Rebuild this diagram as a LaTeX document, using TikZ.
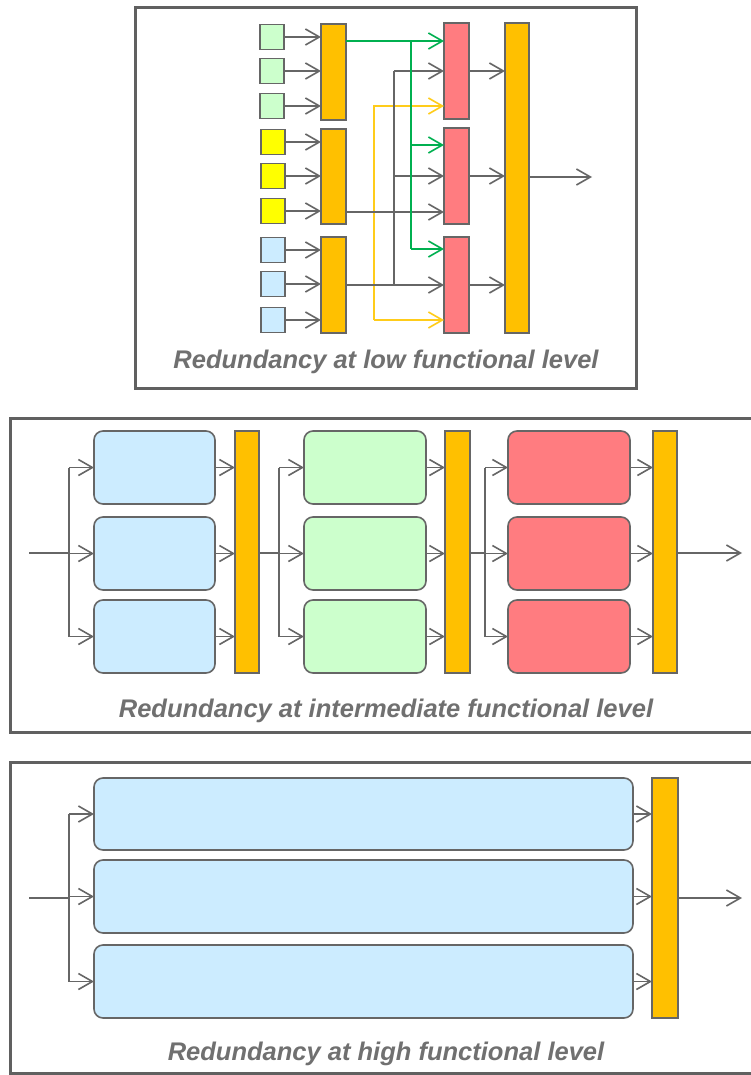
\documentclass[tikz,border=0pt]{standalone}
\usepackage{fontspec}
\setmainfont{Liberation Sans}
\usetikzlibrary{arrows.meta}
\definecolor{lgray}{HTML}{666666}
\definecolor{fgray}{HTML}{606060}
\definecolor{capgray}{HTML}{707070}
\definecolor{lgreen}{HTML}{CCFFCC}
\definecolor{lyellow}{HTML}{FFFF00}
\definecolor{lblue}{HTML}{CCECFF}
\definecolor{orng}{HTML}{FFC000}
\definecolor{lred}{HTML}{FF7C80}
\definecolor{grn}{HTML}{00B050}
\definecolor{ylw}{HTML}{FFCC1A}
\tikzset{
  x=1pt, y=-1pt,
  box/.style={draw=lgray, line width=1.6pt, inner sep=0pt, outer sep=0pt},
  sq/.style={box, minimum width=24pt, minimum height=25pt},
  rbox/.style={box, rounded corners=9pt},
  wire/.style={draw=lgray, line width=1.6pt},
  tip/.style={-{Straight Barb[length=14pt,width=16pt,line width=1.6pt]}},
  arr/.style={wire, tip},
  garr/.style={draw=grn, line width=1.6pt, tip},
  gwire/.style={draw=grn, line width=1.6pt},
  yarr/.style={draw=ylw, line width=1.6pt, tip},
  frame/.style={draw=fgray, line width=3pt},
  caption/.style={text=capgray, font=\fontsize{25.5}{30}\selectfont\bfseries\itshape, anchor=base, inner sep=0pt},
}
\begin{document}
\begin{tikzpicture}
\clip (0,0) rectangle (751,1075);
\fill[white] (0,0) rectangle (751,1075);
% ================= top panel =================
\draw[frame] (135,8) rectangle (636,388);
\node[sq, fill=lgreen] (g1) at (272,37) {};
\node[sq, fill=lgreen] (g2) at (272,71) {};
\node[sq, fill=lgreen] (g3) at (272,106) {};
\node[sq, fill=lyellow] (y1) at (273,142) {};
\node[sq, fill=lyellow] (y2) at (273,176) {};
\node[sq, fill=lyellow] (y3) at (273,211) {};
\node[sq, fill=lblue] (u1) at (273,250) {};
\node[sq, fill=lblue] (u2) at (273,284) {};
\node[sq, fill=lblue] (u3) at (273,320) {};
\node[box, fill=orng, minimum width=25pt, minimum height=96pt] (b1) at (333.5,72) {};
\node[box, fill=orng, minimum width=25pt, minimum height=95pt] (b2) at (333.5,176.5) {};
\node[box, fill=orng, minimum width=25pt, minimum height=96pt] (b3) at (333.5,285) {};
\node[box, fill=lred, minimum width=25pt, minimum height=96pt] (r1) at (456.5,71) {};
\node[box, fill=lred, minimum width=25pt, minimum height=96pt] (r2) at (456.5,176) {};
\node[box, fill=lred, minimum width=25pt, minimum height=96pt] (r3) at (456.5,285) {};
\node[box, fill=orng, minimum width=24pt, minimum height=310pt] (F) at (517,178) {};
\foreach \s/\b in {g1/b1,g2/b1,g3/b1,y1/b2,y2/b2,y3/b2,u1/b3,u2/b3,u3/b3}
  \draw[arr] (\s.east) -- (\b.west |- \s.east);
% yellow line
\coordinate (yA) at (374,106);
\coordinate (yB) at (374,320);
\draw[yarr] (yB) -- (yA) -- (r1.west |- yA);
\draw[yarr] (yB) -- (r3.west |- yB);
% gray lines
\coordinate (kA) at (394,71);
\coordinate (kB) at (394,176);
\coordinate (kC) at (394,285);
\coordinate (kD) at (394,212);
\draw[wire] (kA) -- (kC);
\draw[arr] (b3.east |- kC) -- (r3.west |- kC);
\draw[arr] (kA) -- (r1.west |- kA);
\draw[arr] (kB) -- (r2.west |- kB);
\draw[arr] (b2.east |- kD) -- (r2.west |- kD);
% green lines
\coordinate (gA) at (411,41);
\coordinate (gB) at (411,145);
\coordinate (gC) at (411,249);
\draw[gwire] (gA) -- (gC);
\draw[garr] (b1.east |- gA) -- (r1.west |- gA);
\draw[garr] (gB) -- (r2.west |- gB);
\draw[garr] (gC) -- (r3.west |- gC);
% red outputs
\foreach \r in {r1,r2,r3}
  \draw[arr] (\r.east) -- (F.west |- \r.east);
\coordinate (o1) at (592,177);
\draw[arr] (F.east |- o1) -- (o1);
\node[caption] (cap1) at (386,368) {Redundancy at low functional level};
% ================= middle panel =================
\draw[frame] (10,418) rectangle (770,732);
\foreach \i/\y in {1/467.5,2/553.5,3/636.5}{
  \node[rbox, fill=lblue, minimum width=121pt, minimum height=73pt] (a\i) at (154.5,\y) {};
  \node[rbox, fill=lgreen, minimum width=122pt, minimum height=73pt] (c\i) at (365,\y) {};
  \node[rbox, fill=lred, minimum width=122pt, minimum height=73pt] (d\i) at (569,\y) {};
}
\node[box, fill=orng, minimum width=24pt, minimum height=242pt] (B1) at (247,552) {};
\node[box, fill=orng, minimum width=25pt, minimum height=242pt] (B2) at (457.5,552) {};
\node[box, fill=orng, minimum width=24pt, minimum height=242pt] (B3) at (665,552) {};
\coordinate (mi) at (29,553);
\coordinate (mv) at (69,553);
\draw[wire] (mi) -- (mv);
\draw[wire] (mv |- a1) -- (mv |- a3);
\coordinate (mv2) at (279,553);
\draw[wire] (B1.east |- mv2) -- (mv2);
\draw[wire] (mv2 |- c1) -- (mv2 |- c3);
\coordinate (mv3) at (485,553);
\draw[wire] (B2.east |- mv3) -- (mv3);
\draw[wire] (mv3 |- d1) -- (mv3 |- d3);
\foreach \i in {1,2,3}{
  \draw[arr] (mv |- a\i) -- (a\i.west);
  \draw[arr] (a\i.east) -- (B1.west |- a\i.east);
  \draw[arr] (mv2 |- c\i) -- (c\i.west);
  \draw[arr] (c\i.east) -- (B2.west |- c\i.east);
  \draw[arr] (mv3 |- d\i) -- (d\i.west);
  \draw[arr] (d\i.east) -- (B3.west |- d\i.east);
}
\coordinate (o2) at (742,553);
\draw[arr] (B3.east |- o2) -- (o2);
\node[caption] (cap2) at (386,717) {Redundancy at intermediate functional level};
% ================= bottom panel =================
\draw[frame] (10,762) rectangle (770,1073);
\node[rbox, fill=lblue, minimum width=539pt, minimum height=72pt] (h1) at (363.5,814) {};
\node[rbox, fill=lblue, minimum width=539pt, minimum height=73pt] (h2) at (363.5,896.5) {};
\node[rbox, fill=lblue, minimum width=539pt, minimum height=73pt] (h3) at (363.5,981.5) {};
\node[box, fill=orng, minimum width=26pt, minimum height=240pt] (H) at (665,898) {};
\coordinate (hi) at (29,898);
\coordinate (hv) at (69,898);
\draw[wire] (hi) -- (hv);
\draw[wire] (hv |- h1) -- (hv |- h3);
\foreach \i in {1,2,3}{
  \draw[arr] (hv |- h\i) -- (h\i.west);
  \draw[arr] (h\i.east) -- (H.west |- h\i.east);
}
\coordinate (o3) at (742,898);
\draw[arr] (H.east |- o3) -- (o3);
\node[caption] (cap3) at (386,1060) {Redundancy at high functional level};
\end{tikzpicture}
\end{document}
